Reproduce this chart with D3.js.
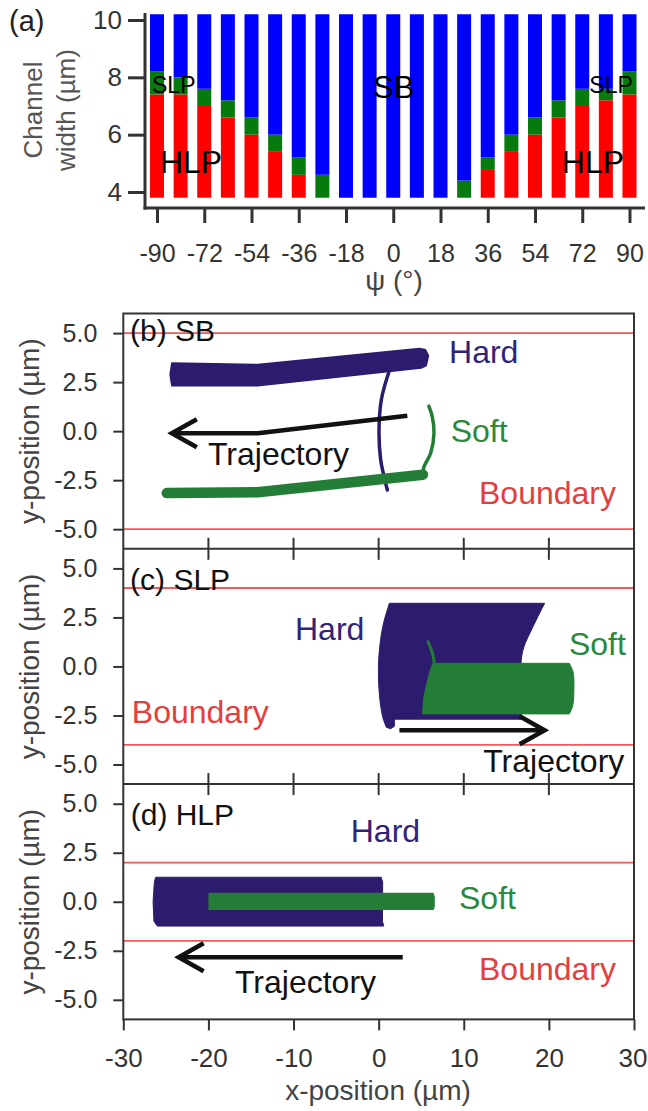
<!DOCTYPE html>
<html><head><meta charset="utf-8">
<script src="https://cdn.jsdelivr.net/npm/d3@7"></script>
<style>
body{margin:0;background:#fff}
svg{display:block}
text{font-family:"Liberation Sans",Arial,Helvetica,sans-serif}
</style>
</head><body>
<svg id="chart" width="648" height="1111"></svg>
<script>
// ---------------- Panel (a) data ----------------
const psi = [-90,-81,-72,-63,-54,-45,-36,-27,-18,-9,0,9,18,27,36,45,54,63,72,81,90];
// upper channel width of HLP region (red) and SLP region (green); above is SB (blue)
const hlpUpper = [7.4,7.4,7.0,6.6,6.0,5.4,4.6,3.8,3.8,3.8,3.8,3.8,3.8,3.8,4.8,5.4,6.0,6.6,7.0,7.2,7.4];
const slpUpper = [8.2,8.0,7.6,7.2,6.6,6.0,5.2,4.6,3.8,3.8,3.8,3.8,3.8,4.4,5.2,6.0,6.6,7.2,7.6,7.6,8.2];
const widthMin = 3.8, widthMax = 10.2;
const psiTicks = [-90,-72,-54,-36,-18,0,18,36,54,72,90];
const widthTicks = [4,6,8,10];
const regionLabels = [
  {t:"SLP", x:-91.9, y:7.46, s:23},
  {t:"HLP", x:-88.9, y:4.66, s:32},
  {t:"SB",  x:-7.7,  y:7.27, s:31},
  {t:"SLP", x:74.7,  y:7.46, s:23},
  {t:"HLP", x:64.2,  y:4.65, s:32}
];

// ---------------- Panels (b)-(d) data ----------------
const posTicksX = [-30,-20,-10,0,10,20,30];
const posTicksY = [-5,-2.5,0,2.5,5];

// (b) SB
const sbBoundary = [5,-5];
const sbHard = [[-24.3,3.47],[-14.2,3.40],[4.8,4.22],[5.5,4.15],[5.85,3.85],[5.6,3.35],[5.0,3.22],[-14.2,2.31],[-24.3,2.31],[-24.5,2.9]];
const sbHardArc = [[1.21,3.03],[0.31,1.59],[0.04,-0.11],[0.24,-1.47],[0.55,-2.15],[1.02,-3.0]];
const sbSoftBand = [[-24.9,-3.16],[-14.2,-3.12],[5.2,-2.22]];
const sbSoftArc = [[5.13,-2.32],[5.33,-1.81],[6.11,-1.13],[6.5,-0.11],[6.3,0.74],[5.9,1.28]];
const sbTraj = [[3.37,0.79],[-14.2,-0.11],[-24.3,-0.11]];

// (c) SLP : outlines as segments, curved = true for the swept arcs
const slpBoundary = [4,-4];
const slpHard = [
  {curved:false, pts:[[1.26,3.22],[19.5,3.22]]},
  {curved:true,  pts:[[19.5,3.22],[18.1,2.0],[17.06,0.99],[16.75,0.31],[16.7,-1.0],[16.75,-2.69]]},
  {curved:false, pts:[[16.75,-2.69],[1.85,-2.69],[1.85,-3.05],[1.4,-3.18],[0.9,-3.1]]},
  {curved:true,  pts:[[0.9,-3.1],[0.47,-2.57],[0.08,-1.39],[0.0,0.31],[0.47,2.0],[1.26,3.22]]}
];
const slpSoft = [
  {curved:false, pts:[[6.35,0.16],[22.4,0.16]]},
  {curved:true,  pts:[[22.4,0.16],[22.85,-0.3],[22.94,-1.05],[22.8,-2.0],[22.4,-2.42]]},
  {curved:false, pts:[[22.4,-2.42],[5.18,-2.42]]},
  {curved:true,  pts:[[5.18,-2.42],[5.3,-1.6],[5.57,-1.05],[6.0,-0.3],[6.35,0.16]]}
];
const slpSoftTail = [[6.55,0.16],[6.3,0.7],[5.8,1.26]];
const slpTraj = [[2.44,-3.25],[19.5,-3.25]];

// (d) HLP
const hlpBoundary = [2,-2];
const hlpHard = [[-26.2,1.25],[0.3,1.25],[0.47,1.0],[0.45,-1.0],[0.6,-1.24],[-26.0,-1.24],[-26.4,-1.0],[-26.5,0.0],[-26.35,1.0]];
const hlpSoft = [[-20.0,0.46],[6.45,0.46],[6.6,0.25],[6.6,-0.25],[6.45,-0.42],[-20.0,-0.42]];
const hlpTraj = [[2.83,-2.83],[-23.5,-2.83]];

// text annotations in data coordinates
const sbLabels  = [{t:"(b) SB",x:-29.2,y:4.61,c:"#111",s:30},{t:"Hard",x:8.27,y:3.46,c:"#2f2478",s:32},{t:"Soft",x:8.46,y:-0.54,c:"#2a8a3c",s:32},{t:"Boundary",x:11.79,y:-3.71,c:"#e2403f",s:32},{t:"Trajectory",x:-20.05,y:-1.73,c:"#111",s:32}];
const slpLabels = [{t:"(c) SLP",x:-29.2,y:3.9,c:"#111",s:30},{t:"Hard",x:-9.83,y:1.35,c:"#2f2478",s:32},{t:"Soft",x:22.36,y:0.59,c:"#2a8a3c",s:32},{t:"Boundary",x:-29.0,y:-2.9,c:"#e2403f",s:32},{t:"Trajectory",x:12.29,y:-5.37,c:"#111",s:32}];
const hlpLabels = [{t:"(d) HLP",x:-29.13,y:3.91,c:"#111",s:30},{t:"Hard",x:-3.28,y:3.06,c:"#2f2478",s:32},{t:"Soft",x:9.44,y:-0.38,c:"#2a8a3c",s:32},{t:"Boundary",x:11.79,y:-3.99,c:"#e2403f",s:32},{t:"Trajectory",x:-16.88,y:-4.67,c:"#111",s:32}];

// ---------------- drawing ----------------
const svg = d3.select("#chart");
const NAVY = "#2d1b6e", GREEN = "#237d37", BRED = "#f05a5a", AX = "#333";
const FONT = '"Liberation Sans",Arial,sans-serif';

// ===== Panel (a)
const xa = d3.scaleLinear().domain([-90,90]).range([157,629.5]);
const ya = d3.scaleLinear().domain([4,10]).range([192,20]);
const barW = 14;
const segs = [];
psi.forEach((p,i)=>{
  segs.push({p, lo:widthMin, hi:hlpUpper[i], c:"#ff0000"});
  segs.push({p, lo:hlpUpper[i], hi:slpUpper[i], c:"#067a0c"});
  segs.push({p, lo:slpUpper[i], hi:widthMax, c:"#0000ff"});
});
const ga = svg.append("g");
ga.selectAll("rect.seg").data(segs.filter(d=>d.hi>d.lo)).join("rect")
  .attr("class","seg")
  .attr("x",d=>xa(d.p)-barW/2).attr("width",barW)
  .attr("y",d=>ya(d.hi)).attr("height",d=>ya(d.lo)-ya(d.hi))
  .attr("fill",d=>d.c);

const axA = ga.append("g").attr("transform","translate(0,208)")
  .call(d3.axisBottom(xa).tickValues(psiTicks).tickSize(15).tickPadding(21).tickSizeOuter(0).tickFormat(d=>String(d)));
const ayA = ga.append("g").attr("transform","translate(145,0)")
  .call(d3.axisLeft(ya).tickValues(widthTicks).tickSize(17).tickPadding(6).tickSizeOuter(0).tickFormat(d=>String(d)));
[axA,ayA].forEach(g=>{
  g.select(".domain").remove();
  g.selectAll(".tick line").attr("stroke",AX).attr("stroke-width",3);
  g.selectAll(".tick text").attr("fill","#333").style("font-family",FONT);
});
axA.selectAll(".tick text").style("font-size","25px");
ayA.selectAll(".tick text").style("font-size","26px");
ga.append("line").attr("x1",143.5).attr("x2",645).attr("y1",208).attr("y2",208).attr("stroke",AX).attr("stroke-width",3);
ga.append("line").attr("x1",145).attr("x2",145).attr("y1",13).attr("y2",209.5).attr("stroke",AX).attr("stroke-width",3);

ga.selectAll("text.reg").data(regionLabels).join("text").attr("class","reg")
  .attr("x",d=>xa(d.x)).attr("y",d=>ya(d.y)).attr("font-size",d=>d.s).attr("fill","#000").text(d=>d.t);
ga.append("text").attr("x",9).attr("y",31).attr("font-size",29).attr("fill","#222").text("(a)");
ga.append("text").attr("transform","translate(42,110) rotate(-90)").attr("text-anchor","middle").attr("font-size",26).attr("fill","#555").text("Channel");
ga.append("text").attr("transform","translate(75,110) rotate(-90)").attr("text-anchor","middle").attr("font-size",26).attr("fill","#555").text("width (µm)");
ga.append("text").attr("x",394).attr("y",290).attr("text-anchor","middle").attr("font-size",28).attr("fill","#444").text("ψ (°)");

// ===== Panels (b)-(d)
const xp = d3.scaleLinear().domain([-30,30]).range([123.3,634]);
const panelH = 235.3, top0 = 313.5;

function outline(segments, y){
  const ln = d3.line().x(d=>xp(d[0])).y(d=>y(d[1]));
  const lc = d3.line().x(d=>xp(d[0])).y(d=>y(d[1])).curve(d3.curveCatmullRom);
  let s = "";
  segments.forEach((sg,k)=>{
    let p = (sg.curved ? lc : ln)(sg.pts);
    if(k>0) p = "L" + p.slice(1);
    s += p;
  });
  return s + "Z";
}

const panels = [
  {boundary:sbBoundary, labels:sbLabels, draw:(g,y)=>{
     const ln = d3.line().x(d=>xp(d[0])).y(d=>y(d[1]));
     const lc = d3.line().x(d=>xp(d[0])).y(d=>y(d[1])).curve(d3.curveCatmullRom);
     g.append("path").attr("d",ln(sbHard)+"Z").attr("fill",NAVY).attr("stroke",NAVY).attr("stroke-width",1.5).attr("stroke-linejoin","round");
     g.append("path").attr("d",lc(sbHardArc)).attr("fill","none").attr("stroke",NAVY).attr("stroke-width",3.5).attr("stroke-linecap","round");
     g.append("path").attr("d",ln(sbSoftBand)).attr("fill","none").attr("stroke",GREEN).attr("stroke-width",10.5).attr("stroke-linecap","round");
     g.append("path").attr("d",lc(sbSoftArc)).attr("fill","none").attr("stroke",GREEN).attr("stroke-width",3.5).attr("stroke-linecap","round");
     arrow(g, sbTraj, y);
  }},
  {boundary:slpBoundary, labels:slpLabels, draw:(g,y)=>{
     const lc = d3.line().x(d=>xp(d[0])).y(d=>y(d[1])).curve(d3.curveCatmullRom);
     g.append("path").attr("d",outline(slpHard,y)).attr("fill",NAVY).attr("stroke",NAVY).attr("stroke-width",1).attr("stroke-linejoin","round");
     g.append("path").attr("d",outline(slpSoft,y)).attr("fill",GREEN).attr("stroke",GREEN).attr("stroke-width",1).attr("stroke-linejoin","round");
     g.append("path").attr("d",lc(slpSoftTail)).attr("fill","none").attr("stroke",GREEN).attr("stroke-width",3).attr("stroke-linecap","round");
     arrow(g, slpTraj, y);
  }},
  {boundary:hlpBoundary, labels:hlpLabels, draw:(g,y)=>{
     const ln = d3.line().x(d=>xp(d[0])).y(d=>y(d[1]));
     g.append("path").attr("d",ln(hlpHard)+"Z").attr("fill",NAVY).attr("stroke",NAVY).attr("stroke-width",1).attr("stroke-linejoin","round");
     g.append("path").attr("d",ln(hlpSoft)+"Z").attr("fill",GREEN);
     arrow(g, hlpTraj, y);
  }}
];

function arrow(g, pts, y){
  const ln = d3.line().x(d=>xp(d[0])).y(d=>y(d[1]));
  g.append("path").attr("d",ln(pts)).attr("fill","none").attr("stroke","#111").attr("stroke-width",4.5).attr("stroke-linejoin","round");
  const n = pts.length, tip = pts[n-1], prev = pts[n-2];
  const tx = xp(tip[0]), ty = y(tip[1]);
  const dir = Math.sign(xp(prev[0]) - tx);
  g.append("path").attr("d",`M${tx+dir*25},${ty-14}L${tx},${ty}L${tx+dir*25},${ty+14}`)
    .attr("fill","none").attr("stroke","#111").attr("stroke-width",4.5).attr("stroke-linejoin","miter").attr("stroke-linecap","butt");
}

const gp = svg.append("g");
panels.forEach((P,i)=>{
  const top = top0 + i*panelH;
  const y = d3.scaleLinear().domain([-6,6]).range([top+panelH, top]);
  const g = gp.append("g");
  g.selectAll("line.bd").data(P.boundary).join("line").attr("class","bd")
    .attr("x1",xp(-30)).attr("x2",xp(30)).attr("y1",d=>y(d)).attr("y2",d=>y(d))
    .attr("stroke",BRED).attr("stroke-width",1.8);
  P.draw(g,y);
  const ay = g.append("g").attr("transform",`translate(${xp(-30)},0)`)
    .call(d3.axisLeft(y).tickValues(posTicksY).tickSize(10).tickPadding(16).tickSizeOuter(0).tickFormat(d=>d.toFixed(1)));
  ay.select(".domain").remove();
  ay.selectAll(".tick line").attr("stroke",AX).attr("stroke-width",2);
  ay.selectAll(".tick text").attr("fill","#333").style("font-size","25px").style("font-family",FONT);
  g.append("text").attr("transform",`translate(39,${top+panelH/2}) rotate(-90)`).attr("text-anchor","middle")
    .attr("font-size",28).attr("fill","#444").text("y-position (µm)");
  g.selectAll("text.lab").data(P.labels).join("text").attr("class","lab")
    .attr("x",d=>xp(d.x)).attr("y",d=>y(d.y)).attr("font-size",d=>d.s).attr("fill",d=>d.c).text(d=>d.t);
  if(i>0){
    g.selectAll("line.st").data(posTicksX.filter(d=>d>-30&&d<30)).join("line").attr("class","st")
      .attr("x1",d=>xp(d)).attr("x2",d=>xp(d)).attr("y1",top-11).attr("y2",top+11)
      .attr("stroke",AX).attr("stroke-width",2);
  }
});
const bottom = top0 + 3*panelH;
gp.append("rect").attr("x",xp(-30)).attr("y",top0).attr("width",xp(30)-xp(-30)).attr("height",3*panelH)
  .attr("fill","none").attr("stroke",AX).attr("stroke-width",2);
[1,2].forEach(k=>gp.append("line").attr("x1",xp(-30)).attr("x2",xp(30)).attr("y1",top0+k*panelH).attr("y2",top0+k*panelH).attr("stroke",AX).attr("stroke-width",2));
const ax = gp.append("g").attr("transform",`translate(0,${bottom})`)
  .call(d3.axisBottom(xp).tickValues(posTicksX).tickSize(11).tickPadding(18).tickSizeOuter(0).tickFormat(d=>String(d)));
ax.select(".domain").remove();
ax.selectAll(".tick line").attr("stroke",AX).attr("stroke-width",2);
ax.selectAll(".tick text").attr("fill","#333").style("font-size","26px").style("font-family",FONT);
// keep the last label inside the page edge
ax.selectAll(".tick text").filter(d=>d===30).attr("text-anchor","end").attr("x",13);
gp.append("text").attr("x",378).attr("y",1100).attr("text-anchor","middle").attr("font-size",28).attr("fill","#444").text("x-position (µm)");
</script>
</body></html>
